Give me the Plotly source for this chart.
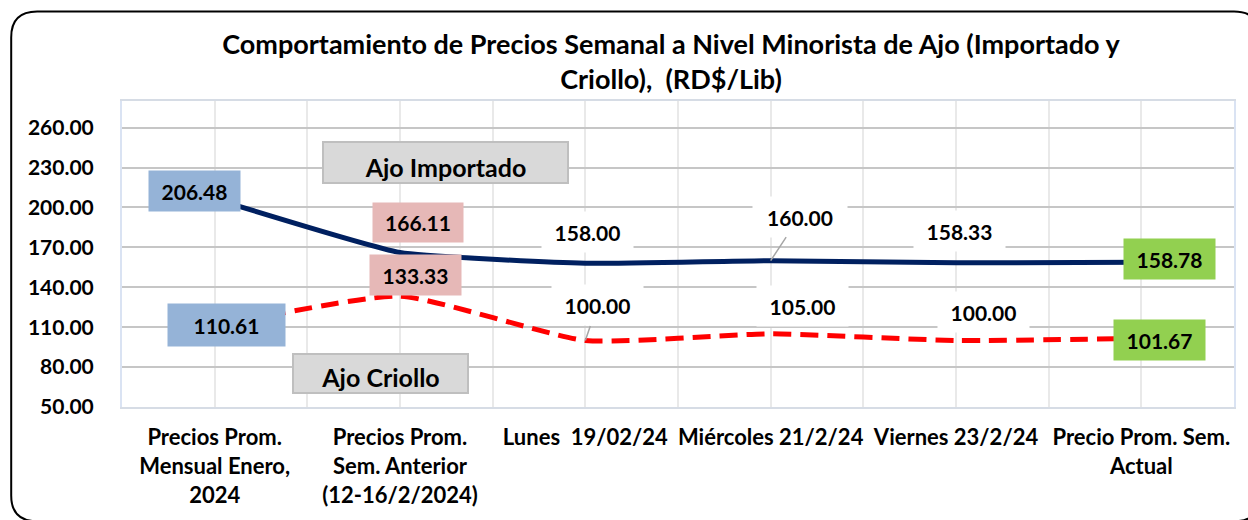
import plotly.graph_objects as go

categories = [
    "Precios Prom.<br>Mensual Enero,<br>2024",
    "Precios Prom.<br>Sem. Anterior<br>(12-16/2/2024)",
    "Lunes\u00a0 19/02/24",
    "Miércoles 21/2/24",
    "Viernes 23/2/24",
    "Precio Prom. Sem.<br>Actual",
]
importado = [206.48, 166.11, 158.00, 160.00, 158.33, 158.78]
criollo = [110.61, 133.33, 100.00, 105.00, 100.00, 101.67]
y_ticks = [50, 80, 110, 140, 170, 200, 230, 260]
y_ticktext = [f"{v:.2f}" for v in y_ticks]

W, H = 1248, 520
L, R, T, B = 122, 12, 101, 111
PW, PH = W - L - R, H - T - B

def px(x):
    return (x - L) / PW

def py(y):
    return (H - B - y) / PH

FONT = "Lato"
x = list(range(len(categories)))

fig = go.Figure()
fig.add_trace(go.Scatter(
    x=x, y=importado, mode="lines", name="Ajo Importado",
    line=dict(color="#002060", width=5, shape="spline", smoothing=0.4),
    showlegend=False, hoverinfo="skip"))
fig.add_trace(go.Scatter(
    x=x, y=criollo, mode="lines", name="Ajo Criollo",
    line=dict(color="#ff0000", width=5, dash="18px,9px", shape="spline", smoothing=0.5),
    showlegend=False, hoverinfo="skip"))

# label styles: (offset x, offset y, width, height, bg, leader)
imp_style = [(-20, -8, 89, 38, "#95b3d7", False),
             (18, -30, 88, 37, "#e6b8b7", False),
             (2, -31, 89, 38, "white", False),
             (29, -44, 92, 38, "white", True),
             (3, -32, 89, 38, "white", False),
             (28, -3, 89, 38, "#92d050", False)]
cri_style = [(12, -1, 115, 40, "#95b3d7", False),
             (15, -21, 89, 38, "#e6b8b7", False),
             (12, -35, 89, 38, "white", True),
             (32, -28, 89, 38, "white", False),
             (27, -28, 89, 38, "white", False),
             (18, 2, 89, 38, "#92d050", False)]

annotations = []
for series, styles in ((importado, imp_style), (criollo, cri_style)):
    for i, (v, st) in enumerate(zip(series, styles)):
        dx, dy, w, h, bg, leader = st
        annotations.append(dict(
            x=i, y=v, xref="x", yref="y", text=f"{v:.2f}",
            showarrow=True, ax=dx, ay=dy, axref="pixel", ayref="pixel",
            arrowhead=0, arrowwidth=1.5,
            arrowcolor="#a6a6a6" if leader else "rgba(0,0,0,0)",
            width=w, height=h, bgcolor=bg,
            font=dict(family=FONT, size=21, color="black", weight="bold")))

# series name boxes
annotations.append(dict(
    x=px(446), y=py(163), xref="paper", yref="paper", text="Ajo Importado",
    xanchor="center", yanchor="middle",
    showarrow=False, width=243, height=39, valign="bottom", bgcolor="#d9d9d9",
    bordercolor="#bfbfbf", borderwidth=2, borderpad=0,
    font=dict(family=FONT, size=25, color="black", weight="bold")))
annotations.append(dict(
    x=px(381), y=py(375), xref="paper", yref="paper", text="Ajo Criollo",
    xanchor="center", yanchor="middle",
    showarrow=False, width=173, height=37, valign="bottom", bgcolor="#d9d9d9",
    bordercolor="#bfbfbf", borderwidth=2, borderpad=0,
    font=dict(family=FONT, size=25, color="black", weight="bold")))

# outer rounded border
x0, y0, x1, y1, r = 11, 11, 1262, 524, 26
path = (f"M {px(x0)} {py(y0 + r)} "
        f"Q {px(x0)} {py(y0)} {px(x0 + r)} {py(y0)} "
        f"L {px(x1 - r)} {py(y0)} "
        f"Q {px(x1)} {py(y0)} {px(x1)} {py(y0 + r)} "
        f"L {px(x1)} {py(y1 - r)} "
        f"Q {px(x1)} {py(y1)} {px(x1 - r)} {py(y1)} "
        f"L {px(x0 + r)} {py(y1)} "
        f"Q {px(x0)} {py(y1)} {px(x0)} {py(y1 - r)} Z")
shapes = [dict(type="path", xref="paper", yref="paper", path=path,
               line=dict(color="black", width=2), layer="above")]

fig.update_layout(
    width=W, height=H,
    margin=dict(l=L, r=R, t=T, b=B),
    paper_bgcolor="white", plot_bgcolor="white",
    title=dict(
        text="Comportamiento de Precios Semanal a Nivel Minorista de Ajo (Importado y<br>Criollo),  (RD$/Lib)",
        x=671 / W, xanchor="center", y=1 - 54 / H, yanchor="middle",
        font=dict(family=FONT, size=27, color="black", weight="bold")),
    xaxis=dict(
        range=[-0.5, 5.5], tickvals=x, ticktext=categories,
        showgrid=True, gridcolor="#e9e9e9", gridwidth=2,
        minor=dict(tickvals=[i + 0.5 for i in range(-1, 6)], showgrid=True,
                   gridcolor="#e9e9e9", gridwidth=2),
        showline=True, linecolor="#d6dce5", linewidth=2, mirror=True,
        ticks="", ticklabelstandoff=10, zeroline=False,
        tickfont=dict(family=FONT, size=22, color="black", weight="bold")),
    yaxis=dict(
        range=[50, 280], tickvals=y_ticks, ticktext=y_ticktext,
        showgrid=True, gridcolor="#c6c6c6", gridwidth=2,
        showline=True, linecolor="#dae3f3", linewidth=2, mirror=True,
        ticks="", ticklabelstandoff=22, zeroline=False,
        tickfont=dict(family=FONT, size=21, color="black", weight="bold")),
    annotations=annotations,
    shapes=shapes,
)

fig.write_html("out.html", config={"displayModeBar": False},
               post_script="document.body.style.margin='0';")
